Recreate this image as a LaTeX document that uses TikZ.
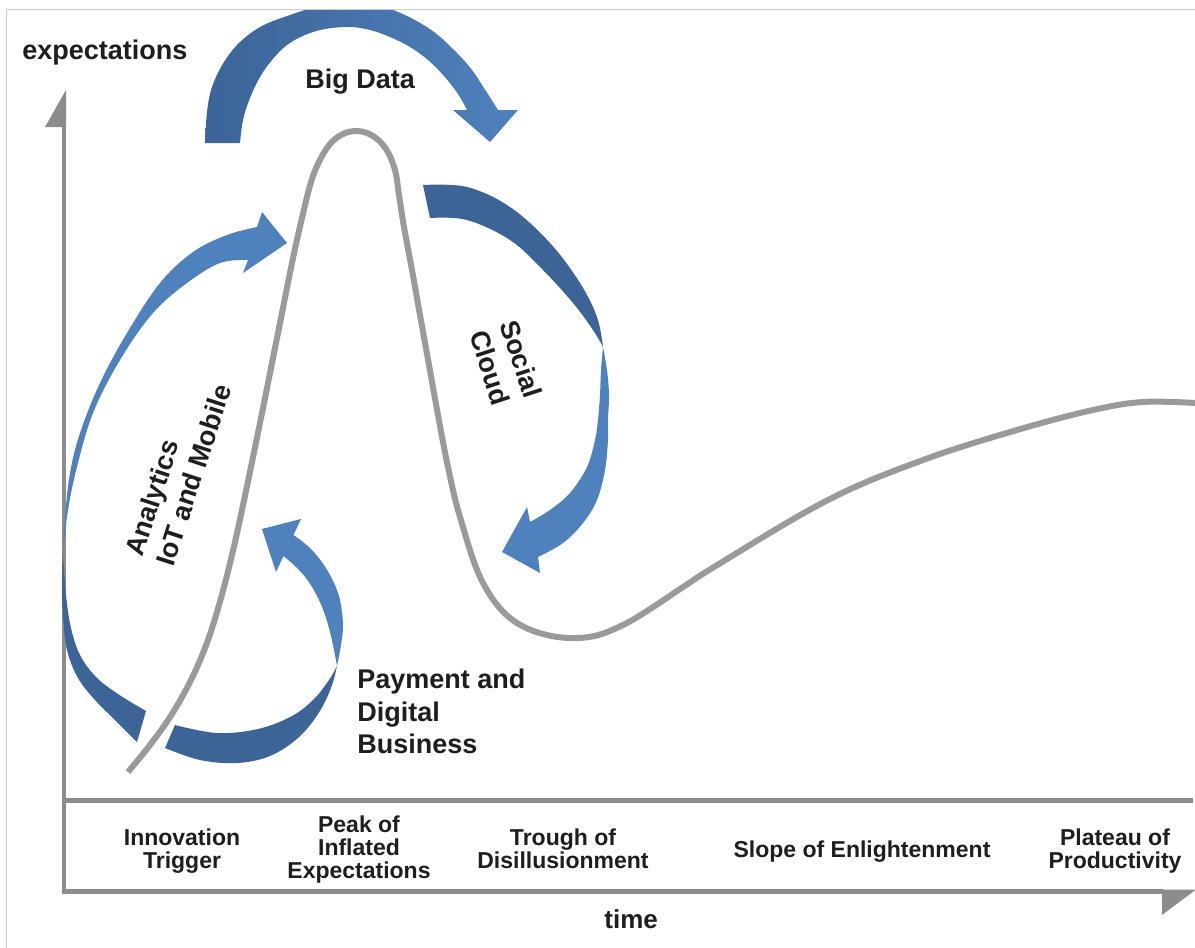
\documentclass[tikz,border=0pt]{standalone}
\usepackage{fontspec}
\setmainfont{Liberation Sans}
\definecolor{bdark}{HTML}{3C6497}
\definecolor{blight}{HTML}{4F81BD}
\definecolor{axisgray}{HTML}{8C8C8C}
\definecolor{curvegray}{HTML}{9A9A9A}
\definecolor{framegray}{HTML}{CCCCCC}
\definecolor{txt}{HTML}{1E1E1E}
\begin{document}
\begin{tikzpicture}[x=0.5pt,y=-0.5pt,
  lbl/.style={inner sep=0pt, text=txt, font=\fontsize{13.5}{16.25}\selectfont\bfseries},
  phase/.style={inner sep=0pt, text=txt, align=center, anchor=north, font=\fontsize{11.5}{11.7}\selectfont\bfseries},
  axisline/.style={draw=axisgray, line width=2.2pt},
  hype/.style={draw=curvegray, line width=3pt},
  darkpart/.style={fill=bdark},
  lightpart/.style={fill=blight}]
\useasboundingbox (0,0) rectangle (1195,948);
\fill[white] (0,0) rectangle (1195,948);
% frame
\draw[framegray, line width=0.5pt] (6.5,948) -- (6.5,9.5) -- (1195,9.5);

% axes
\draw[axisline] (64,893) -- (64,125);
\fill[axisgray] (66,90) -- (45,127) -- (66,127) -- cycle;
\draw[axisline] (62,800.5) -- (1193,800.5);
\draw[axisline] (62,891.5) -- (1163,891.5);
\fill[axisgray] (1162,889.5) -- (1196,889.5) -- (1162,915) -- cycle;

% hype curve
\draw[hype] plot[smooth, tension=0.6] coordinates {(128,772) (150,745) (172,714) (192,678) (208,640) (221,598) (232,555) (242,510) (252,462) (262,413) (272,363) (282,313) (292,263) (302,218) (313,176) (327,148) (341,135) (357,131) (373,136) (386,149) (395,170) (399,195) (404,227) (412,270) (420,315) (429,365) (438,415) (448,467) (460,517) (483,583) (517,623) (570,638) (623,625) (714,567) (828,500) (923,460) (1017,430) (1093,410) (1143,402) (1195,403)};

% Big Data arrow
\begin{scope}
\clip (0,10) rectangle (1195,948);
\shade[left color=bdark, right color=blight]
  plot[smooth, tension=0.6] coordinates {(205,143) (207,112) (212,87) (224,62) (240,42) (262,26) (290,15) (320,6) (350,3) (380,6) (407,16) (434,32) (457,53) (472,70) (484,88) (493,102) (498,110)}
  -- (518,110) -- (490,142) -- (453,110)
  -- plot[smooth, tension=0.6] coordinates {(467,110) (458,94) (444,76) (428,60) (410,47) (390,37) (370,30) (350,27) (325,29) (305,35) (287,45) (272,60) (260,77) (250,98) (243,120) (240,143)}
  -- cycle;
\end{scope}

% Analytics arrow
\fill[darkpart] plot[smooth, tension=0.6] coordinates {(63,553) (62,585) (63,615) (67,650) (78,678) (95,700) (115,720) (137,742)}
  -- plot[smooth, tension=0.6] coordinates {(146,711) (118,694) (96,677) (80,655) (71,628) (66,595) (63,553)} -- cycle;
\fill[lightpart] plot[smooth, tension=0.6] coordinates {(63,553) (65,517) (70,473) (80,433) (100,383) (127,333) (160,283) (193,252) (227,235) (257,227)}
  -- (262,212) -- (287,243) -- (243,273)
  -- plot[smooth, tension=0.6] coordinates {(248,260) (220,263) (187,283) (153,313) (120,360) (93,413) (77,467) (68,510) (63,553)} -- cycle;

% Payment arrow
\fill[darkpart] plot[smooth, tension=0.6] coordinates {(165,748) (200,760) (237,763) (270,756) (298,738) (318,714) (331,688) (337,666)}
  -- plot[smooth, tension=0.6] coordinates {(337,666) (329,680) (314,699) (292,716) (258,729) (217,733) (175,725)} -- cycle;
\fill[lightpart] plot[smooth, tension=0.6] coordinates {(337,666) (341,645) (343,625) (340,600) (334,583) (324,565) (310,548) (293.5,535)}
  -- (301,519) -- (262,529) -- (276,572)
  -- plot[smooth, tension=0.6] coordinates {(283.5,556) (295,566) (306,578) (316,594) (324,612) (330,632) (334,650) (337,666)} -- cycle;

% Social Cloud arrow
\fill[darkpart] plot[smooth, tension=0.6] coordinates {(423,185) (467,187) (510,207) (550,243) (580,283) (597,317) (603,347)}
  -- plot[smooth, tension=0.6] coordinates {(603,347) (593,330) (573,303) (543,270) (510,240) (467,220) (430,218)} -- cycle;
\fill[lightpart] plot[smooth, tension=0.6] coordinates {(603,347) (607,370) (609,395) (608,420) (608,440) (605,470) (597,500) (583,523) (563,543) (538,557)}
  -- (540,573) -- (502,552) -- (527,507)
  -- plot[smooth, tension=0.6] coordinates {(530,522) (550,510) (570,493) (587,467) (595,440) (598,420) (600,395) (601,370) (603,347)} -- cycle;

% labels
\node[lbl, anchor=base west] (ylab) at (22,59) {expectations};
\node[lbl, anchor=base west, font=\fontsize{13}{15}\selectfont\bfseries] (xlab) at (604,928) {time};
\node[lbl, anchor=base west] (bigdata) at (305,88) {Big Data};
\node[lbl, rotate=72, align=left] (analytics) at (178,470) {Analytics\\IoT and Mobile};
\node[lbl, rotate=-72, align=left] (social) at (506,364) {Social\\Cloud};
\node[lbl, anchor=north west, align=left] (payment) at (357,669) {Payment and\\Digital\\Business};

% phases
\node[phase] (p1) at (182,828) {Innovation\\Trigger};
\node[phase] (p2) at (359,815) {Peak of\\Inflated\\Expectations};
\node[phase] (p3) at (563,828) {Trough of\\Disillusionment};
\node[phase] (p4) at (862,840) {Slope of Enlightenment};
\node[phase] (p5) at (1115,828) {Plateau of\\Productivity};
\end{tikzpicture}
\end{document}
